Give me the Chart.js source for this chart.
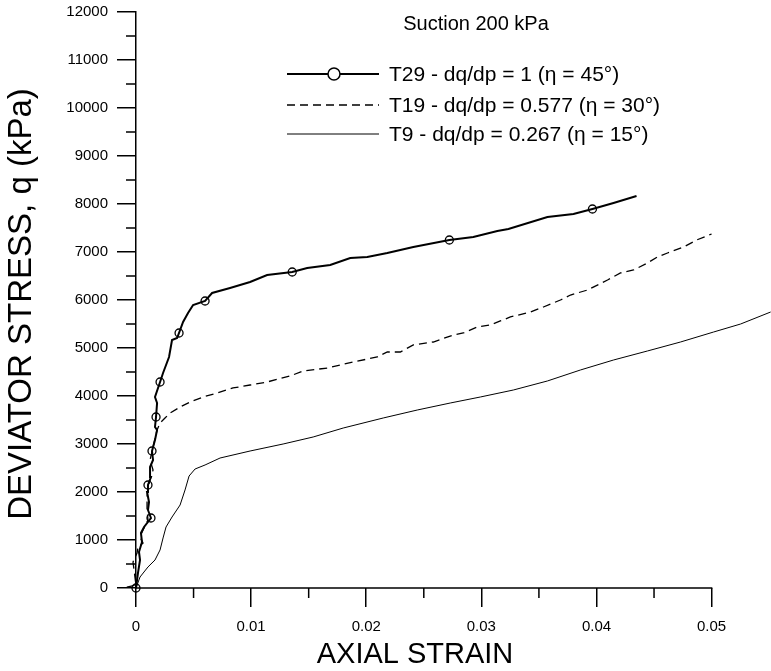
<!DOCTYPE html>
<html>
<head>
<meta charset="utf-8">
<script src="https://cdn.jsdelivr.net/npm/chart.js@4/dist/chart.umd.min.js"></script>
<style>
  body { margin: 0; background: #fff; }
</style>
</head>
<body>
<canvas id="chart" width="771" height="671"></canvas>
<script>
// Axis ticks
const xTicks = [0, 0.01, 0.02, 0.03, 0.04, 0.05];
const yTicks = [0, 1000, 2000, 3000, 4000, 5000, 6000, 7000, 8000, 9000, 10000, 11000, 12000];

// T29 - dq/dp = 1
const t29Strain = [0, 0.00017, 0.00035, 0.00026, 0.00052, 0.00043, 0.0007, 0.0013, 0.00104, 0.00113,
  0.00096, 0.00104, 0.0013, 0.00122, 0.00148, 0.00139, 0.00165, 0.00183, 0.00165, 0.00174,
  0.00183, 0.00165, 0.00209, 0.00235, 0.00287, 0.00313, 0.00357, 0.00374, 0.00409, 0.00452,
  0.00496, 0.006, 0.00661, 0.00817, 0.00991, 0.01139, 0.01357, 0.01487, 0.01687, 0.01861,
  0.02009, 0.02183, 0.02409, 0.02722, 0.0293, 0.03139, 0.03235, 0.03574, 0.038, 0.03965,
  0.04148, 0.04348];
const t29Q = [0, 312, 583, 750, 958, 1146, 1271, 1458, 1625, 1792,
  2000, 2146, 2313, 2521, 2667, 2854, 3083, 3292, 3354, 3563,
  3854, 3979, 4292, 4479, 4813, 5167, 5208, 5313, 5542, 5729,
  5896, 5979, 6146, 6250, 6375, 6521, 6583, 6667, 6729, 6875,
  6896, 6979, 7104, 7250, 7313, 7438, 7479, 7729, 7792, 7896,
  8021, 8167];
// which T29 points carry a circle marker
const t29Markers = [0, 7, 11, 15, 19, 22, 27, 31, 36, 43, 49];

// T19 - dq/dp = 0.577
const t19Strain = [-0.0008, 0, -0.00026, 0.00009, 0.00017, 0.00061, 0.00035, 0.00061, 0.00104, 0.00096, 0.00096,
  0.00104, 0.00122, 0.00148, 0.00122, 0.00148, 0.00183, 0.00209, 0.00252, 0.00296, 0.00383,
  0.0047, 0.00583, 0.00704, 0.00843, 0.00991, 0.01139, 0.01339, 0.01452, 0.01661, 0.01887,
  0.02096, 0.02183, 0.02296, 0.02409, 0.02583, 0.02757, 0.02843, 0.02965, 0.03078, 0.03165,
  0.03252, 0.03426, 0.03539, 0.03687, 0.03774, 0.03922, 0.04096, 0.04209, 0.04322, 0.04443,
  0.0453, 0.04617, 0.04757, 0.0487, 0.05];
const t19Q = [20, 60, 542, 729, 854, 938, 1063, 1208, 1417, 1625, 1896,
  2104, 2250, 2458, 2667, 2938, 3292, 3438, 3542, 3646, 3771,
  3875, 3979, 4063, 4167, 4229, 4292, 4417, 4521, 4583, 4708,
  4813, 4917, 4917, 5063, 5125, 5271, 5313, 5438, 5479, 5563,
  5646, 5750, 5854, 6000, 6104, 6208, 6417, 6563, 6625, 6771,
  6896, 6979, 7104, 7250, 7375];

// T9 - dq/dp = 0.267
const t9Strain = [0, 0.00035, 0.00104, 0.00165, 0.00209, 0.00235, 0.00261, 0.00313, 0.00383, 0.00426,
  0.00461, 0.00513, 0.006, 0.0073, 0.00991, 0.01278, 0.01539, 0.018, 0.02148, 0.02443,
  0.0273, 0.02991, 0.03278, 0.03574, 0.03861, 0.04148, 0.04443, 0.0473, 0.05017, 0.05252,
  0.05513];
const t9Q = [0, 229, 438, 583, 792, 1042, 1271, 1479, 1729, 2042,
  2333, 2479, 2563, 2708, 2854, 3000, 3146, 3333, 3542, 3708,
  3854, 3979, 4125, 4313, 4542, 4750, 4938, 5125, 5333, 5500,
  5750];

const seriesLabels = [
  'T29 - dq/dp = 1 (\u03B7 = 45\u00B0)',
  'T19 - dq/dp = 0.577 (\u03B7 = 30\u00B0)',
  'T9 - dq/dp = 0.267 (\u03B7 = 15\u00B0)'
];

const FONT = "'Liberation Sans', Arial, sans-serif";

function toPoints(xs, ys) {
  return xs.map((x, i) => ({ x: x, y: ys[i] }));
}

// x axis line (stops at the last labelled tick) plus minor tick marks
const axisExtras = {
  id: 'axisExtras',
  afterDraw(chart) {
    const ctx = chart.ctx;
    const xs = chart.scales.x, ys = chart.scales.y;
    const area = chart.chartArea;
    const xEnd = xs.getPixelForValue(xTicks[xTicks.length - 1]);
    ctx.save();
    ctx.strokeStyle = '#000';
    ctx.lineWidth = 1.5;
    ctx.beginPath();
    ctx.moveTo(area.left, area.bottom);
    ctx.lineTo(xEnd + 0.75, area.bottom);
    for (let i = 0; i < xTicks.length - 1; i++) {
      const px = xs.getPixelForValue((xTicks[i] + xTicks[i + 1]) / 2);
      ctx.moveTo(px, area.bottom);
      ctx.lineTo(px, area.bottom + 10);
    }
    for (let i = 0; i < yTicks.length - 1; i++) {
      const py = ys.getPixelForValue((yTicks[i] + yTicks[i + 1]) / 2);
      ctx.moveTo(area.left, py);
      ctx.lineTo(area.left - 10, py);
    }
    ctx.stroke();

    // axis titles
    ctx.fillStyle = '#000';
    ctx.textAlign = 'center';
    ctx.textBaseline = 'middle';
    ctx.font = '29px ' + FONT;
    ctx.fillText('AXIAL STRAIN', 415, 655);
    ctx.translate(22, 304);
    ctx.rotate(-Math.PI / 2);
    ctx.font = '33px ' + FONT;
    ctx.fillText('DEVIATOR STRESS, q (kPa)', 0, 0);
    ctx.restore();
  }
};

// legend box inside the plot, top right
const insideLegend = {
  id: 'insideLegend',
  afterDraw(chart) {
    const ctx = chart.ctx;
    ctx.save();
    ctx.fillStyle = '#000';
    ctx.font = '20px ' + FONT;
    ctx.textAlign = 'center';
    ctx.textBaseline = 'middle';
    ctx.fillText('Suction 200 kPa', 476, 24);

    ctx.textAlign = 'left';
    ctx.font = '21px ' + FONT;
    const rows = [74, 105, 134];
    const x0 = 287, x1 = 379;
    chart.data.datasets.forEach((ds, i) => {
      const y = rows[i];
      ctx.strokeStyle = '#000';
      ctx.lineWidth = ds.borderWidth;
      ctx.setLineDash(ds.borderDash || []);
      ctx.beginPath();
      ctx.moveTo(x0, y);
      ctx.lineTo(x1, y);
      ctx.stroke();
      ctx.setLineDash([]);
      if (i === 0) {
        ctx.lineWidth = 1.5;
        ctx.fillStyle = '#fff';
        ctx.beginPath();
        ctx.arc(334, y, 6, 0, Math.PI * 2);
        ctx.fill();
        ctx.stroke();
        ctx.fillStyle = '#000';
      }
      ctx.fillText(seriesLabels[i], 389, y + 1);
    });
    ctx.restore();
  }
};

const ctx = document.getElementById('chart').getContext('2d');
new Chart(ctx, {
  type: 'scatter',
  data: {
    datasets: [
      {
        label: seriesLabels[0],
        data: toPoints(t29Strain, t29Q),
        showLine: true,
        borderColor: '#000',
        borderWidth: 2,
        pointRadius: (c) => t29Markers.includes(c.dataIndex) ? 4 : 0,
        pointBorderWidth: 1.3,
        pointBorderColor: '#000',
        pointBackgroundColor: 'rgba(0,0,0,0)',
        clip: false
      },
      {
        label: seriesLabels[1],
        data: toPoints(t19Strain, t19Q),
        showLine: true,
        borderColor: '#000',
        borderWidth: 1.3,
        borderDash: [8, 5],
        pointRadius: 0,
        clip: false
      },
      {
        label: seriesLabels[2],
        data: toPoints(t9Strain, t9Q),
        showLine: true,
        borderColor: '#000',
        borderWidth: 1,
        pointRadius: 0,
        clip: false
      }
    ]
  },
  options: {
    responsive: false,
    animation: false,
    layout: { padding: { top: 12, right: 0, bottom: 0, left: 0 } },
    plugins: {
      legend: { display: false },
      tooltip: { enabled: false }
    },
    scales: {
      x: {
        type: 'linear',
        min: 0,
        max: 0.0547,
        afterFit: (s) => { s.height = 83; s.paddingLeft = 0; s.paddingRight = 0; },
        afterBuildTicks: (s) => { s.ticks = xTicks.map(v => ({ value: v })); },
        border: { display: false },
        grid: { drawOnChartArea: false, drawTicks: true, tickLength: 19, color: '#000', lineWidth: 1.5 },
        ticks: {
          color: '#000',
          padding: 11,
          font: { family: FONT, size: 15 },
          callback: (v) => v === 0 ? '0' : String(+v.toFixed(3))
        }
      },
      y: {
        type: 'linear',
        min: 0,
        max: 12000,
        afterFit: (s) => { s.width = 136; s.paddingTop = 0; s.paddingBottom = 0; },
        afterBuildTicks: (s) => { s.ticks = yTicks.map(v => ({ value: v })); },
        border: { display: true, color: '#000', width: 1.5 },
        grid: { drawOnChartArea: false, drawTicks: true, tickLength: 19, color: '#000', lineWidth: 1.5 },
        ticks: {
          color: '#000',
          padding: 9,
          font: { family: FONT, size: 15 },
          callback: (v) => String(v)
        }
      }
    }
  },
  plugins: [axisExtras, insideLegend]
});
</script>
</body>
</html>
